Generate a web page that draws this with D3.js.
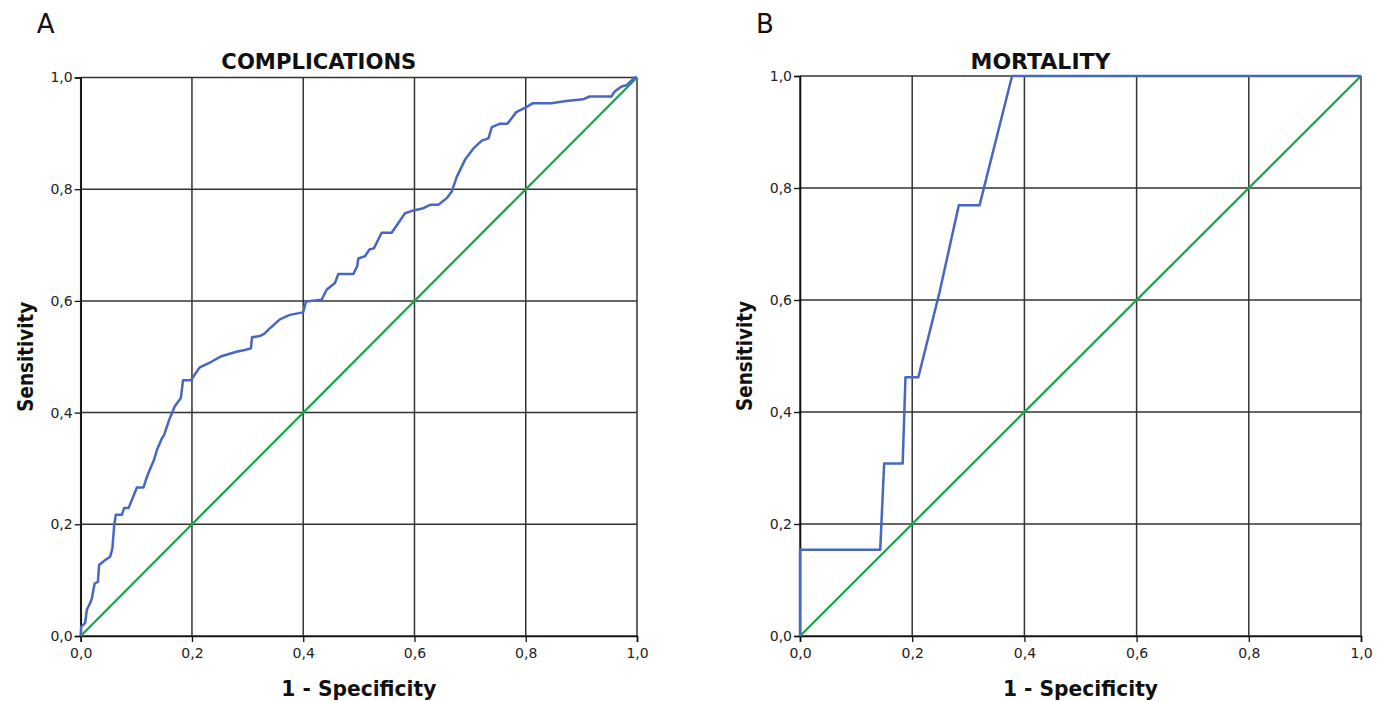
<!DOCTYPE html>
<html>
<head>
<meta charset="utf-8">
<script src="https://cdn.jsdelivr.net/npm/d3@7"></script>
<style>
  body { margin: 0; background: #fff; }
  .title { font-family: "DejaVu Sans", sans-serif; font-weight: bold; font-size: 22px; fill: #111; }
  .axlabel { font-family: "DejaVu Sans Condensed", "DejaVu Sans", sans-serif; font-weight: bold; font-size: 21px; fill: #111; }
  .letter { font-family: "DejaVu Sans", sans-serif; font-size: 26px; fill: #111; }
</style>
</head>
<body>
<div id="chart"></div>
<script>
// ---- datos ----
const ticks = [0, 0.2, 0.4, 0.6, 0.8, 1.0];

// A: COMPLICATIONS (1 - especificidad, sensibilidad)
const compX = [0, 0.001, 0.008, 0.011, 0.017, 0.020, 0.025, 0.031, 0.033, 0.044, 0.053, 0.057, 0.060, 0.063,
  0.074, 0.078, 0.086, 0.101, 0.113, 0.119, 0.132, 0.137, 0.146, 0.150, 0.159, 0.164, 0.169, 0.180, 0.184,
  0.198, 0.214, 0.235, 0.253, 0.280, 0.295, 0.306, 0.308, 0.322, 0.331, 0.337, 0.358, 0.376, 0.397, 0.400,
  0.405, 0.433, 0.442, 0.457, 0.463, 0.490, 0.497, 0.499, 0.511, 0.519, 0.527, 0.541, 0.559, 0.583, 0.598,
  0.616, 0.628, 0.643, 0.658, 0.667, 0.676, 0.691, 0.706, 0.721, 0.733, 0.739, 0.753, 0.767, 0.783, 0.801,
  0.813, 0.846, 0.873, 0.903, 0.915, 0.954, 0.960, 0.972, 0.981, 0.996, 1.0];
const compY = [0, 0.017, 0.023, 0.047, 0.059, 0.067, 0.094, 0.097, 0.127, 0.136, 0.142, 0.157, 0.196, 0.217,
  0.217, 0.229, 0.229, 0.266, 0.266, 0.285, 0.316, 0.333, 0.354, 0.360, 0.387, 0.399, 0.411, 0.426, 0.458,
  0.458, 0.481, 0.491, 0.501, 0.509, 0.512, 0.515, 0.535, 0.537, 0.542, 0.548, 0.567, 0.575, 0.579, 0.580,
  0.599, 0.602, 0.620, 0.632, 0.648, 0.648, 0.662, 0.676, 0.680, 0.692, 0.694, 0.722, 0.722, 0.757, 0.762,
  0.766, 0.772, 0.772, 0.784, 0.796, 0.822, 0.853, 0.873, 0.887, 0.891, 0.911, 0.917, 0.917, 0.938, 0.947,
  0.954, 0.954, 0.958, 0.961, 0.966, 0.966, 0.975, 0.984, 0.986, 1.0, 1.0];

// B: MORTALITY
const mortX = [0, 0, 0.143, 0.150, 0.183, 0.188, 0.211, 0.249, 0.283, 0.320, 0.378, 1.0];
const mortY = [0, 0.154, 0.154, 0.308, 0.308, 0.462, 0.462, 0.615, 0.769, 0.769, 1.0, 1.0];

// diagonal de referencia
const refX = [0, 1];
const refY = [0, 1];

const W = 1386, H = 701;
const svg = d3.select("#chart").append("svg").attr("width", W).attr("height", H);

const fmt = d => d3.format(".1f")(d).replace(".", ",");

function drawPanel(p) {
  const x = d3.scaleLinear().domain([0, 1]).range([p.left, p.right]);
  const y = d3.scaleLinear().domain([0, 1]).range([p.bottom, p.top]);
  const g = svg.append("g");

  // rejilla
  g.selectAll(".gx").data(ticks).enter().append("line")
    .attr("x1", d => x(d)).attr("x2", d => x(d))
    .attr("y1", y(0)).attr("y2", y(1))
    .attr("stroke", "#333").attr("stroke-width", 1.5);
  g.selectAll(".gy").data(ticks).enter().append("line")
    .attr("x1", x(0)).attr("x2", x(1))
    .attr("y1", d => y(d)).attr("y2", d => y(d))
    .attr("stroke", "#333").attr("stroke-width", 1.5);

  // ejes
  const ax = g.append("g").attr("transform", `translate(0,${p.bottom})`)
    .call(d3.axisBottom(x).tickValues(ticks).tickFormat(fmt).tickSize(6).tickPadding(6));
  const ay = g.append("g").attr("transform", `translate(${p.left},0)`)
    .call(d3.axisLeft(y).tickValues(ticks).tickFormat(fmt).tickSize(6).tickPadding(2));
  [ax, ay].forEach(a => {
    a.attr("font-family", "DejaVu Sans, sans-serif").attr("font-size", 14);
    a.selectAll(".tick text").attr("fill", "#222");
    a.select(".domain").attr("stroke", "#111").attr("stroke-width", 1.6);
    a.selectAll(".tick line").attr("stroke", "#111").attr("stroke-width", 1.3);
  });

  const line = d3.line().x(d => x(d[0])).y(d => y(d[1]));

  g.append("path").datum(d3.zip(refX, refY))
    .attr("d", line).attr("fill", "none")
    .attr("stroke", "#1aa64e").attr("stroke-width", 2.3);

  g.append("path").datum(d3.zip(p.xs, p.ys))
    .attr("d", line).attr("fill", "none")
    .attr("stroke", "#4767c2").attr("stroke-width", 2.5)
    .attr("stroke-linejoin", "round");

  // textos
  svg.append("text").attr("class", "letter").attr("x", p.left - 44).attr("y", 33).text(p.letter);
  svg.append("text").attr("class", "title").attr("text-anchor", "middle")
    .attr("x", (p.left + p.right) / 2 - 40).attr("y", 69)
    .attr("textLength", p.titleLen).attr("lengthAdjust", "spacingAndGlyphs")
    .text(p.title);
  svg.append("text").attr("class", "axlabel").attr("text-anchor", "middle")
    .attr("x", (p.left + p.right) / 2).attr("y", 696)
    .attr("textLength", 155).attr("lengthAdjust", "spacingAndGlyphs")
    .text("1 - Specificity");
  svg.append("text").attr("class", "axlabel").attr("text-anchor", "middle")
    .attr("transform", `translate(${p.left - 48},${(p.top + p.bottom) / 2}) rotate(-90)`)
    .attr("textLength", 110).attr("lengthAdjust", "spacingAndGlyphs")
    .text("Sensitivity");
}

drawPanel({ left: 80.7, right: 637, top: 77.5, bottom: 636, xs: compX, ys: compY,
  title: "COMPLICATIONS", titleLen: 195, letter: "A" });
drawPanel({ left: 800, right: 1361, top: 76, bottom: 636, xs: mortX, ys: mortY,
  title: "MORTALITY", titleLen: 140, letter: "B" });
</script>
</body>
</html>
